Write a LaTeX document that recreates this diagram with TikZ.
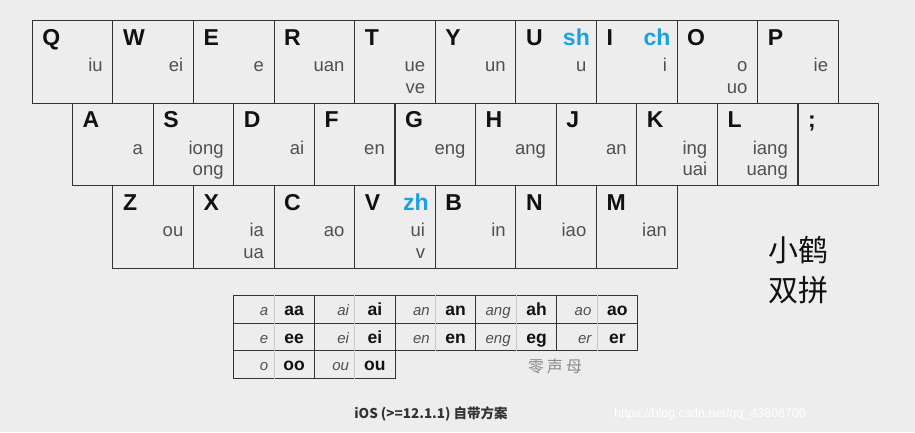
\documentclass[tikz,border=0pt]{standalone}
\usepackage{fontspec}
\setmainfont{Liberation Sans}
\newfontfamily\cjkfont{Noto Sans CJK SC}
\usetikzlibrary{positioning}
\definecolor{paper}{HTML}{EDEDED}
\definecolor{keyink}{HTML}{333333}
\definecolor{letterink}{HTML}{111111}
\definecolor{finalgray}{HTML}{505050}
\definecolor{shblue}{HTML}{1BA1E2}
\definecolor{sepgray}{HTML}{C8C8C8}
\definecolor{zerogray}{HTML}{8A8A8A}

\begin{document}
\begin{tikzpicture}[
  x=1pt,y=-1pt,
  keybox/.style={draw=keyink,line width=1.1pt,minimum width=80.6pt,
                 minimum height=82.6pt,anchor=north west,inner sep=0pt},
  keyletter/.style={anchor=base west,inner sep=0pt,text=letterink,
                    font=\bfseries\fontsize{23}{26}\selectfont},
  keyblue/.style={anchor=base east,inner sep=0pt,text=shblue,
                  font=\bfseries\fontsize{23}{26}\selectfont},
  keyfinal/.style={anchor=base east,inner sep=0pt,text=finalgray,
                   font=\fontsize{18.5}{22}\selectfont},
  zcell/.style={draw=keyink,line width=1pt,minimum width=80.8pt,
                minimum height=27.5pt,anchor=north west,inner sep=0pt},
  zsep/.style={draw=sepgray,line width=.7pt},
  zsrc/.style={anchor=base east,inner sep=0pt,text=finalgray,
               font=\itshape\fontsize{15}{17}\selectfont},
  zdst/.style={anchor=base,inner sep=0pt,text=letterink,
               font=\bfseries\fontsize{17.5}{20}\selectfont}
]
\fill[paper] (0,0) rectangle (915,432);
\useasboundingbox (0,0) rectangle (915,432);
% keyboard, letter / shengmu / yunmu
\foreach \row/\dx/\keys in {
  1/0/{Q//iu/,W//ei/,E//e/,R//uan/,T//ue/ve,Y//un/,U/sh/u/,I/ch/i/,O//o/uo,P//ie/},
  2/40.3/{A//a/,S//iong/ong,D//ai/,F//en/,G//eng/,H//ang/,J//an/,K//ing/uai,L//iang/uang,;///},
  3/80.6/{Z//ou/,X//ia/ua,C//ao/,V/zh/ui/v,B//in/,N//iao/,M//ian/}}{
  \foreach \k/\b/\p/\q [count=\i] in \keys {
    \node[keybox] (k\row-\i) at ({31.7+\dx+80.6*(\i-1)},{20+82.6*(\row-1)}) {};
    \node[keyletter] (k\row-\i-a) at ([shift={(10.5,25)}]k\row-\i.north west) {\k};
    \node[keyblue] (k\row-\i-b) at ([shift={(-7,25)}]k\row-\i.north east) {\b};
    \node[keyfinal] (k\row-\i-p) at ([shift={(-10.5,51.7)}]k\row-\i.north east) {\p};
    \node[keyfinal] (k\row-\i-q) at ([shift={(-10.5,73.3)}]k\row-\i.north east) {\q};
  }
}
\node[font=\cjkfont\fontsize{30}{40}\selectfont,text=letterink,align=center]
  (title) at (798,270) {小鹤\\双拼};
% zero initials
\foreach \r/\j/\s/\d in {1/1/a/aa,1/2/ai/ai,1/3/an/an,1/4/ang/ah,1/5/ao/ao,
  2/1/e/ee,2/2/ei/ei,2/3/en/en,2/4/eng/eg,2/5/er/er,3/1/o/oo,3/2/ou/ou}{
  \node[zcell] (z\r-\j) at ({233+80.8*(\j-1)},{295+27.5*(\r-1)}) {};
  \draw[zsep] (z\r-\j.north) -- (z\r-\j.south);
  \node[zsrc] (z\r-\j-s) at ([shift={(-5.5,6.5)}]z\r-\j.center) {\s};
  \node[zdst] (z\r-\j-d) at ([shift={(20.2,6.5)}]z\r-\j.center) {\d};
}
\node[text=zerogray,font=\cjkfont\fontsize{16}{18}\selectfont]
  (zero) at (555,366) {零\hspace{3pt}声\hspace{3pt}母};
\node[text=keyink,font=\cjkfont\bfseries\fontsize{13.5}{16}\selectfont]
  (caption) at (431,414) {iOS (>=12.1.1) 自带方案};
\node[text=white,font=\fontsize{12.5}{14}\selectfont]
  (mark) at (710,414) {https://blog.csdn.net/qq\_43808700};
\end{tikzpicture}
\end{document}
